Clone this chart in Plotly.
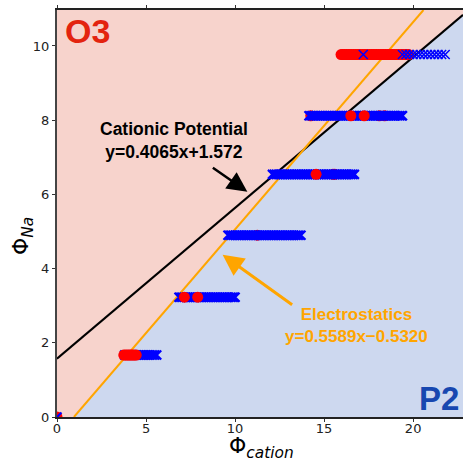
import plotly.graph_objects as go

# ---------------- data ----------------
row_y = [1.67, 3.23, 4.90, 6.54, 8.12, 9.77]

blue_rows = [
    [3.8, 3.9, 4.0, 4.1, 4.2, 4.3, 4.4, 4.5, 4.6, 4.7, 4.8, 4.9, 5.0, 5.1, 5.2, 5.3, 5.4, 5.5, 5.6],
    [6.85, 6.95, 7.05, 7.15, 7.25, 7.35, 7.45, 7.55, 7.65, 7.75, 7.85, 7.95, 8.05, 8.15, 8.25, 8.35,
     8.45, 8.55, 8.65, 8.75, 8.85, 8.95, 9.05, 9.15, 9.25, 9.35, 9.45, 9.55, 9.65, 9.75, 9.85, 9.95, 10.0],
    [9.6, 9.7, 9.8, 9.9, 10.0, 10.1, 10.2, 10.3, 10.4, 10.5, 10.6, 10.7, 10.8, 10.9, 11.0, 11.1, 11.2,
     11.3, 11.4, 11.5, 11.6, 11.7, 11.8, 11.9, 12.0, 12.1, 12.2, 12.3, 12.4, 12.5, 12.6, 12.7, 12.8,
     12.9, 13.0, 13.1, 13.2, 13.3, 13.4, 13.5, 13.6, 13.7],
    [12.1, 12.2, 12.3, 12.4, 12.5, 12.6, 12.7, 12.8, 12.9, 13.0, 13.1, 13.2, 13.3, 13.4, 13.5, 13.6,
     13.7, 13.8, 13.9, 14.0, 14.1, 14.2, 14.3, 14.4, 14.5, 14.6, 14.7, 14.8, 14.9, 15.0, 15.1, 15.2,
     15.3, 15.4, 15.5, 15.6, 15.7, 15.8, 15.9, 16.0, 16.1, 16.2, 16.3, 16.4, 16.5, 16.6, 16.7],
    [14.15, 14.25, 14.35, 14.45, 14.55, 14.65, 14.75, 14.85, 14.95, 15.05, 15.15, 15.25, 15.35, 15.45,
     15.55, 15.65, 15.75, 15.85, 15.95, 16.05, 16.15, 16.25, 16.35, 16.45, 16.55, 16.65, 16.75, 16.85,
     16.95, 17.05, 17.15, 17.25, 17.35, 17.45, 17.55, 17.65, 17.75, 17.85, 17.95, 18.05, 18.15, 18.25,
     18.35, 18.45, 18.55, 18.65, 18.75, 18.85, 18.95, 19.05, 19.15, 19.25, 19.35, 19.4],
    [],
]

# red circles drawn beneath the blue crosses
red_under = [[], [], [11.25], [15.5, 15.6], [14.25, 18.1, 18.4], []]
# red circles drawn above the blue crosses
red_over = [
    [3.75, 3.85, 3.95, 4.05, 4.15, 4.25, 4.35, 4.45],
    [7.15, 7.9],
    [],
    [14.55],
    [16.5, 17.25],
    [15.95, 16.05, 16.15, 16.25, 16.35, 16.45, 16.55, 16.65, 16.75, 16.85, 16.95, 17.05, 17.15, 17.25,
     17.35, 17.45, 17.55, 17.65, 17.75, 17.85, 17.95, 18.05, 18.15, 18.25, 18.35, 18.45, 18.55, 18.65,
     18.75, 18.85, 18.95, 19.05, 19.15, 19.25, 19.35, 19.45, 19.55, 19.65, 19.75],
]
# sparse blue crosses on top of red (last row)
blue_top = [[], [], [], [], [], [17.2, 19.4, 19.6, 19.8, 20.0, 20.2, 20.4, 20.6, 20.8, 21.0, 21.2, 21.4, 21.6, 21.8]]

origin_x = [0.0]
origin_y = [0.0]

cat_slope, cat_int = 0.4065, 1.572
ele_slope, ele_int = 0.5589, -0.5320

x_ticks = [0, 5, 10, 15, 20]
y_ticks = [0, 2, 4, 6, 8, 10]

XMAX, YMAX = 22.8, 10.97

PINK = "#f7d3cc"
LBLUE = "#cdd8ef"


def flat(rows):
    xs, ys = [], []
    for xv, yv in zip(rows, row_y):
        xs += xv
        ys += [yv] * len(xv)
    return xs, ys


fig = go.Figure()

# P2 region: below the lower of the two lines
x_int = (cat_int - ele_int) / (ele_slope - cat_slope)
y_int = cat_slope * x_int + cat_int
bx = [-ele_int / ele_slope, x_int, XMAX, XMAX]
by = [0, y_int, cat_slope * XMAX + cat_int, 0]
fig.add_trace(go.Scatter(x=bx, y=by, fill="toself", fillcolor=LBLUE, mode="none",
                         hoverinfo="skip", showlegend=False))

# guide lines
fig.add_trace(go.Scatter(x=[0, XMAX], y=[cat_int, cat_slope * XMAX + cat_int], mode="lines",
                         line=dict(color="black", width=2), showlegend=False))
fig.add_trace(go.Scatter(x=[-ele_int / ele_slope, (YMAX - ele_int) / ele_slope], y=[0, YMAX], mode="lines",
                         line=dict(color="#ffa500", width=2), showlegend=False))

red_m = dict(symbol="circle", size=11, color="#ff0000", line=dict(width=0))
blue_m = dict(symbol="x-thin", size=9, line=dict(color="#0000ff", width=2.2))

x, y = flat(red_under)
fig.add_trace(go.Scatter(x=x, y=y, mode="markers", marker=red_m, showlegend=False))
x, y = flat(blue_rows)
fig.add_trace(go.Scatter(x=x, y=y, mode="markers", marker=blue_m, showlegend=False))
x, y = flat(red_over)
fig.add_trace(go.Scatter(x=x, y=y, mode="markers", marker=red_m, showlegend=False))
x, y = flat(blue_top)
fig.add_trace(go.Scatter(x=x, y=y, mode="markers",
                         marker=dict(symbol="x-thin", size=9, line=dict(color="#0000ff", width=1.5)),
                         showlegend=False))
fig.add_trace(go.Scatter(x=origin_x, y=origin_y, mode="markers", marker=red_m, showlegend=False))
fig.add_trace(go.Scatter(x=origin_x, y=origin_y, mode="markers", marker=blue_m, showlegend=False))

bold = "Liberation Sans, Arial, sans-serif"
PH = 462 - 10 - 45  # plot height in px
PW = 463 - 57
ann = []
ann.append(dict(x=0.015, y=1.0, xref="paper", yref="paper", xanchor="left", yanchor="top",
                text="<b>O3</b>", showarrow=False, font=dict(family=bold, size=34, color="#e3230f")))
ann.append(dict(x=0.995, y=-0.005, xref="paper", yref="paper", xanchor="right", yanchor="bottom",
                text="<b>P2</b>", showarrow=False, font=dict(family=bold, size=33, color="#1747b0")))
# Cationic potential label + arrow
ann.append(dict(x=(174 - 57) / 17.82, y=(416.7 - 141) / 37.0, xref="x", yref="y",
                text="<b>Cationic Potential<br>y=0.4065x+1.572</b>", showarrow=False,
                font=dict(family=bold, size=17.5, color="black")))
ann.append(dict(x=10.69, y=6.07, xref="x", yref="y", ax=-36, ay=-25, text="", showarrow=True,
                arrowhead=2, arrowsize=1.6, arrowwidth=2.5, arrowcolor="black"))
# Electrostatics label + arrow
ann.append(dict(x=(357 - 57) / 17.82, y=(416.7 - 325) / 37.0, xref="x", yref="y",
                text="<b>Electrostatics<br>y=0.5589x\u22120.5320</b>", showarrow=False,
                font=dict(family=bold, size=17, color="#ffa500")))
ann.append(dict(x=9.30, y=4.37, xref="x", yref="y", ax=71, ay=51, text="", showarrow=True,
                arrowhead=2, arrowsize=1.4, arrowwidth=3, arrowcolor="#ffa500"))
# axis titles
ann.append(dict(x=(261 - 57) / PW, y=(417 - 447) / PH, xref="paper", yref="paper",
                xanchor="center", yanchor="middle", showarrow=False,
                text="\u03a6<sub><i>cation</i></sub>",
                font=dict(family="DejaVu Sans, sans-serif", size=22, color="black")))
ann.append(dict(x=(22 - 57) / PW, y=(417 - 236) / PH, xref="paper", yref="paper",
                xanchor="center", yanchor="middle", showarrow=False, textangle=-90,
                text="\u03a6<sub><i>Na</i></sub>",
                font=dict(family="DejaVu Sans, sans-serif", size=22, color="black")))

tick_font = dict(family="DejaVu Sans, sans-serif", size=13, color="#222")
fig.update_layout(
    width=463, height=462,
    margin=dict(l=57, r=0, t=10, b=45, autoexpand=False),
    plot_bgcolor=PINK, paper_bgcolor="white",
    annotations=ann,
    xaxis=dict(range=[0, XMAX], tickvals=x_ticks, ticks="outside", ticklen=3, tickcolor="#333",
               showgrid=False, zeroline=False, showline=True, linecolor="#222", linewidth=2,
               mirror="ticks", tickfont=tick_font, automargin=False, ticklabelstandoff=-5),
    yaxis=dict(range=[0, YMAX], tickvals=y_ticks, ticks="outside", ticklen=3, tickcolor="#333",
               showgrid=False, zeroline=False, showline=True, linecolor="#444", linewidth=2,
               tickfont=tick_font, automargin=False),
)

fig.write_html("out.html")
